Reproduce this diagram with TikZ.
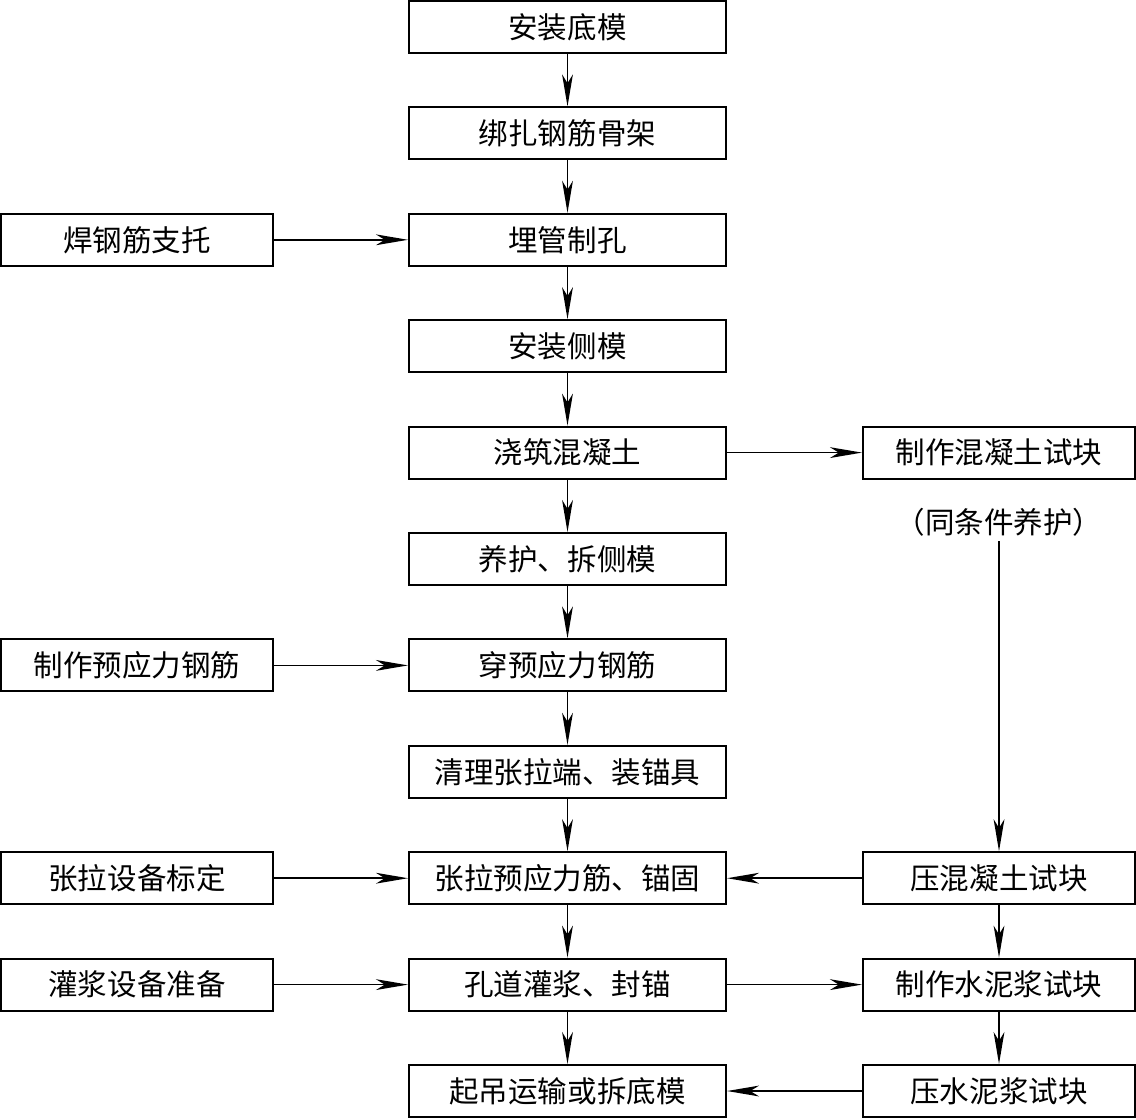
\documentclass[tikz,border=0pt]{standalone}
\usepackage{fontspec}
\setmainfont{Noto Sans CJK SC}
\usetikzlibrary{arrows.meta}
\begin{document}
\begin{tikzpicture}[x=0.025cm,y=-0.025cm,
  font=\fontsize{21}{25}\selectfont,
  box/.style={draw,line width=1.4pt,minimum height=1.3cm,inner sep=0pt},
  mainbox/.style={box,minimum width=7.925cm},
  sidebox/.style={box,minimum width=6.8cm},
  arr/.style={line width=1.1pt,-{Stealth[length=0.8cm,width=0.27cm,inset=0.22cm]}}]
\useasboundingbox (0,0) rectangle (1136,1119);
% Main process column
\foreach \i/\txt in {1/安装底模, 2/绑扎钢筋骨架, 3/埋管制孔, 4/安装侧模, 5/浇筑混凝土,
  6/养护、拆侧模, 7/穿预应力钢筋, 8/清理张拉端、装锚具, 9/张拉预应力筋、锚固,
  10/孔道灌浆、封锚, 11/起吊运输或拆底模} {
\node[mainbox] (c\i) at (567.5,{27+106.4*(\i-1)}) {\txt};
}
\foreach \i [evaluate=\i as \j using int(\i+1)] in {1,...,10}
  \draw[arr] (c\i) -- (c\j);
% Left preparation steps
\foreach \i/\txt in {3/焊钢筋支托, 7/制作预应力钢筋, 9/张拉设备标定, 10/灌浆设备准备} {
\node[sidebox] (l\i) at (137,{27+106.4*(\i-1)}) {\txt};
\draw[arr] (l\i) -- (c\i);
}
% Right test blocks
\foreach \i/\txt in {5/制作混凝土试块, 9/压混凝土试块, 10/制作水泥浆试块, 11/压水泥浆试块}
  \node[sidebox] (r\i) at (999,{27+106.4*(\i-1)}) {\txt};
\node (cure) at (999,522) {（同条件养护）};
\draw[arr] (c5) -- (r5);
\draw[arr] (cure) -- (r9);
\draw[arr] (r9) -- (c9);
\draw[arr] (r9) -- (r10);
\draw[arr] (c10) -- (r10);
\draw[arr] (r10) -- (r11);
\draw[arr] (r11) -- (c11);
\end{tikzpicture}
\end{document}
